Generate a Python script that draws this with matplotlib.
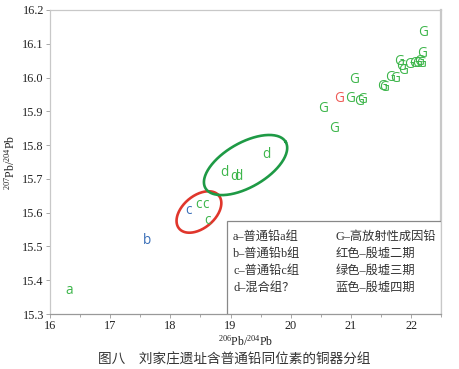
import numpy as np
import matplotlib
matplotlib.use('Agg')
from matplotlib import pyplot as plt  # noqa

plt.rcParams['mathtext.fontset'] = 'custom'
plt.rcParams['mathtext.rm'] = 'Liberation Serif'
plt.rcParams['mathtext.it'] = 'Liberation Serif'

SERIF = ['Liberation Serif', 'Noto Sans CJK SC']
SANS = ['Open Sans', 'DejaVu Sans']

GREEN = '#3cb54a'
RED = '#ee5a55'
BLUE = '#3a6fb8'

# group a, b, c, d points (x, y)
a_pts = [(16.32, 15.37)]
b_pts = [(17.62, 15.517)]
c_blue = [(18.30, 15.605)]
c_green = [(18.47, 15.623), (18.58, 15.623), (18.62, 15.576)]
d_pts = [(18.90, 15.718), (19.07, 15.706), (19.13, 15.706), (19.60, 15.771)]

# high radiogenic lead G
g_red = [(20.80, 15.937)]
g_green_x = [22.20, 22.18, 21.80, 21.83, 21.86, 21.97, 22.05, 22.10, 22.14,
             22.17, 21.65, 21.73, 21.52, 21.55, 21.05, 20.98, 21.13, 21.19,
             20.53, 20.72]
g_green_y = [16.132, 16.072, 16.046, 16.032, 16.022, 16.040, 16.043, 16.043,
             16.046, 16.043, 15.999, 15.996, 15.972, 15.970, 15.993, 15.937,
             15.930, 15.934, 15.907, 15.848]

# group outlines: centre x, centre y, semi-axes (in x units), angle in degrees
red_ring = (18.475, 15.602, 0.43, 0.27, 40)
green_ring = (19.25, 15.741, 0.77, 0.37, 30)

x_ticks = [16, 17, 18, 19, 20, 21, 22]
y_ticks = [15.3, 15.4, 15.5, 15.6, 15.7, 15.8, 15.9, 16.0, 16.1, 16.2]

legend_left = ['a–普通铅a组', 'b–普通铅b组', 'c–普通铅c组', 'd–混合组？']
legend_right = ['G–高放射性成因铅', '红色–殷墟二期', '绿色–殷墟三期', '蓝色–殷墟四期']

caption = '图八　刘家庄遗址含普通铅同位素的铜器分组'


def ring(ax, spec, color):
    cx, cy, a, b, ang = spec
    # y units per x unit so the ring looks right on screen
    k = (0.9 / 304) / (1 / 60)
    t = np.linspace(0, 2 * np.pi, 200)
    th = np.radians(ang)
    u = a * np.cos(t)
    v = b * np.sin(t)
    xs = cx + u * np.cos(th) - v * np.sin(th)
    ys = cy + (u * np.sin(th) + v * np.cos(th)) * k
    ax.plot(xs, ys, color=color, lw=1.9)


def mark(ax, pts, s, color):
    for x, y in pts:
        ax.text(x, y, s, color=color, ha='center', va='center',
                fontsize=9.8, family=SANS)


fig = plt.figure(figsize=(4.59, 3.69), dpi=100)
ax = fig.add_axes([0.109, 0.149, 0.852, 0.824])
ax.set_xlim(16, 22.5)
ax.set_ylim(15.3, 16.2)

ring(ax, red_ring, '#e0362c')
ring(ax, green_ring, '#1e9a45')

mark(ax, a_pts, 'a', GREEN)
mark(ax, b_pts, 'b', BLUE)
mark(ax, c_blue, 'c', BLUE)
mark(ax, c_green, 'c', GREEN)
mark(ax, d_pts, 'd', GREEN)
mark(ax, g_red, 'G', RED)
mark(ax, list(zip(g_green_x, g_green_y)), 'G', GREEN)

ax.set_xticks(x_ticks)
ax.set_xticks(np.arange(16.5, 22.6, 1.0), minor=True)
ax.set_yticks(y_ticks)
ax.set_xticklabels([str(v) for v in x_ticks], family=SERIF, fontsize=8.8)
ax.set_yticklabels(['%.1f' % v for v in y_ticks], family=SERIF, fontsize=8.8)
ax.tick_params(direction='out', length=3, width=0.6, color='#999999',
               pad=1.5, labelcolor='#222222')
ax.tick_params(which='minor', direction='out', length=2, width=0.6,
               color='#999999')
for sp in ax.spines.values():
    sp.set_color('#c8c8c8')
    sp.set_linewidth(0.9)
ax.spines['right'].set_linewidth(1.6)
ax.spines['bottom'].set_color('#999999')

ax.set_xlabel(r'$^{206}$Pb/$^{204}$Pb', family=SERIF, fontsize=8.5,
              color='#222222', labelpad=1)
ax.set_ylabel(r'$^{207}$Pb/$^{204}$Pb', family=SERIF, fontsize=8.5,
              color='#222222', labelpad=3)

# legend box in the lower right corner
box = plt.Rectangle((0.453, 0.0), 0.547, 0.306, transform=ax.transAxes,
                    fill=True, facecolor='white', edgecolor='#888888',
                    lw=0.9, zorder=5)
ax.add_patch(box)
rows = [0.253, 0.198, 0.142, 0.086]
for i in range(4):
    ax.text(0.468, rows[i], legend_left[i], transform=ax.transAxes,
            family=SERIF, fontsize=8.8, color='#333333', va='center',
            zorder=6)
    ax.text(0.731, rows[i], legend_right[i], transform=ax.transAxes,
            family=SERIF, fontsize=8.8, color='#333333', va='center',
            zorder=6)

fig.text(0.51, 0.025, caption, family=['Noto Sans CJK SC'], fontsize=9.8,
         color='#333333', ha='center', va='center')

fig.savefig('out.png', dpi=100)
